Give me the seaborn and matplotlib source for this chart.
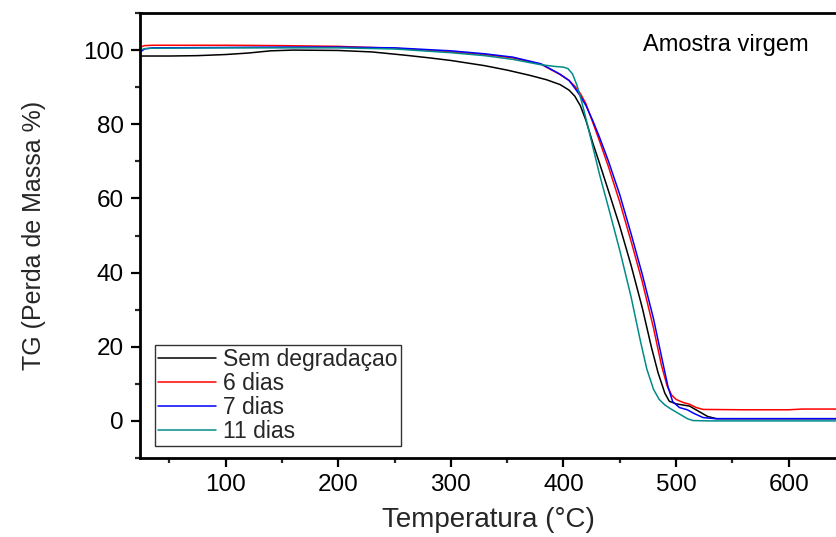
import numpy as np
import pandas as pd
import seaborn as sns
import matplotlib.pyplot as plt
from matplotlib.ticker import MultipleLocator

# DATA ----------------------------------------------------------------------------------------

sem_x = [24, 50, 75, 100, 120, 140, 160, 200, 230, 260, 281, 300, 330, 350, 370, 385, 397, 405, 410, 415,
         420, 426, 432, 440, 450, 460, 470, 478, 484, 490, 494, 500, 506, 512, 520, 528, 536, 600, 645]
sem_y = [98.4, 98.4, 98.5, 98.8, 99.2, 99.8, 100.0, 99.9, 99.5, 98.6, 97.9, 97.2, 95.8, 94.6, 93.2, 92.0, 90.7, 89.2, 87.6, 85.0,
         81.0, 75.0, 69.5, 62.0, 52.5, 42.0, 30.5, 20.0, 13.0, 7.5, 5.3, 4.6, 4.3, 4.0, 2.6, 1.2, 0.6, 0.6, 0.6]

d6_x = [24, 28, 35, 100, 150, 200, 250, 300, 330, 355, 380, 397, 405, 410, 415, 420, 426, 432, 440, 450,
        460, 470, 480, 487, 492, 496, 500, 506, 512, 518, 524, 560, 600, 612, 645]
d6_y = [100.8, 101.2, 101.3, 101.3, 101.2, 101.0, 100.5, 99.5, 98.8, 97.9, 96.2, 93.4, 91.8, 90.3, 88.3, 85.5, 80.5, 75.5, 68.5, 59.0,
        48.5, 37.5, 25.0, 15.0, 9.5, 7.0, 5.8, 5.0, 4.5, 3.6, 3.1, 3.0, 3.0, 3.2, 3.2]

d7_x = [24, 28, 35, 100, 150, 200, 250, 300, 330, 355, 380, 397, 405, 410, 415, 420, 426, 432, 440, 450,
        460, 470, 480, 488, 493, 497, 503, 510, 516, 524, 535, 600, 645]
d7_y = [99.4, 100.3, 100.6, 100.7, 100.8, 100.8, 100.6, 99.8, 99.0, 98.1, 96.3, 93.5, 91.8, 89.8, 87.6, 85.0, 81.0, 76.5, 70.0, 61.0,
        50.5, 39.5, 27.5, 16.0, 9.0, 5.2, 3.6, 3.0, 2.0, 0.9, 0.6, 0.6, 0.6]

d11_x = [24, 28, 35, 100, 150, 200, 250, 300, 330, 355, 379, 392, 400, 404, 408, 412, 416, 420, 426, 432,
         440, 450, 460, 468, 474, 480, 485, 490, 495, 500, 505, 510, 515, 530, 600, 645]
d11_y = [99.9, 100.4, 100.5, 100.6, 100.6, 100.6, 100.3, 99.3, 98.5, 97.5, 96.1, 95.6, 95.4, 95.0, 93.6, 90.5, 86.3, 81.5, 74.0, 66.5,
         57.5, 46.0, 33.5, 22.0, 14.0, 8.5, 5.8, 4.3, 3.3, 2.4, 1.5, 0.6, 0.1, 0.0, 0.0, 0.0]

labels = ['Sem degradaçao', '6 dias', '7 dias', '11 dias']
colors = ['#000000', '#ff0000', '#0000ff', '#008b8b']

# PLOT ------------------------------------------------------------------------------------------

sns.set_theme(style="ticks")
plt.rcParams['font.family'] = ['Liberation Sans', 'DejaVu Sans']

fig = plt.figure(figsize=(8.36, 5.37), dpi=100)
ax = fig.add_axes([140 / 836, 1 - 458 / 537, 696 / 836, 445 / 537])

series = [(sem_x, sem_y), (d6_x, d6_y), (d7_x, d7_y), (d11_x, d11_y)]
for (xs, ys), lab, col in zip(series, labels, colors):
    sns.lineplot(x=xs, y=ys, color=col, label=lab, linewidth=1.1, sort=False, ax=ax)

ax.set_xlim(24, 642)
ax.set_ylim(-10, 110)
ax.xaxis.set_major_locator(MultipleLocator(100))
ax.xaxis.set_minor_locator(MultipleLocator(50))
ax.yaxis.set_major_locator(MultipleLocator(20))
ax.yaxis.set_minor_locator(MultipleLocator(10))
ax.set_xticks([100, 200, 300, 400, 500, 600])

ax.tick_params(which='major', direction='out', length=6.5, width=1.6, labelsize=17.5, colors='black', pad=5)
ax.tick_params(which='minor', direction='out', length=3.5, width=1.6)
for s in ['left', 'bottom', 'top']:
    ax.spines[s].set_linewidth(2.0)
    ax.spines[s].set_color('black')
ax.spines['right'].set_visible(False)

ax.set_xlabel('Temperatura (\u00b0C)', fontsize=20, labelpad=8)
ax.set_ylabel('TG (Perda de Massa %)', fontsize=18, labelpad=27)

ax.text(0.723, 0.929, 'Amostra virgem', transform=ax.transAxes, fontsize=17,
        ha='left', va='center', color='black')

leg = ax.legend(loc='lower left', bbox_to_anchor=(0.0216, 0.027), borderaxespad=0,
                fontsize=16.5, frameon=True, fancybox=False, edgecolor='black',
                handlelength=2.5, handletextpad=0.3, labelspacing=0.03, borderpad=0.15)
leg.get_frame().set_linewidth(1.0)

fig.savefig('out.png', dpi=100)
